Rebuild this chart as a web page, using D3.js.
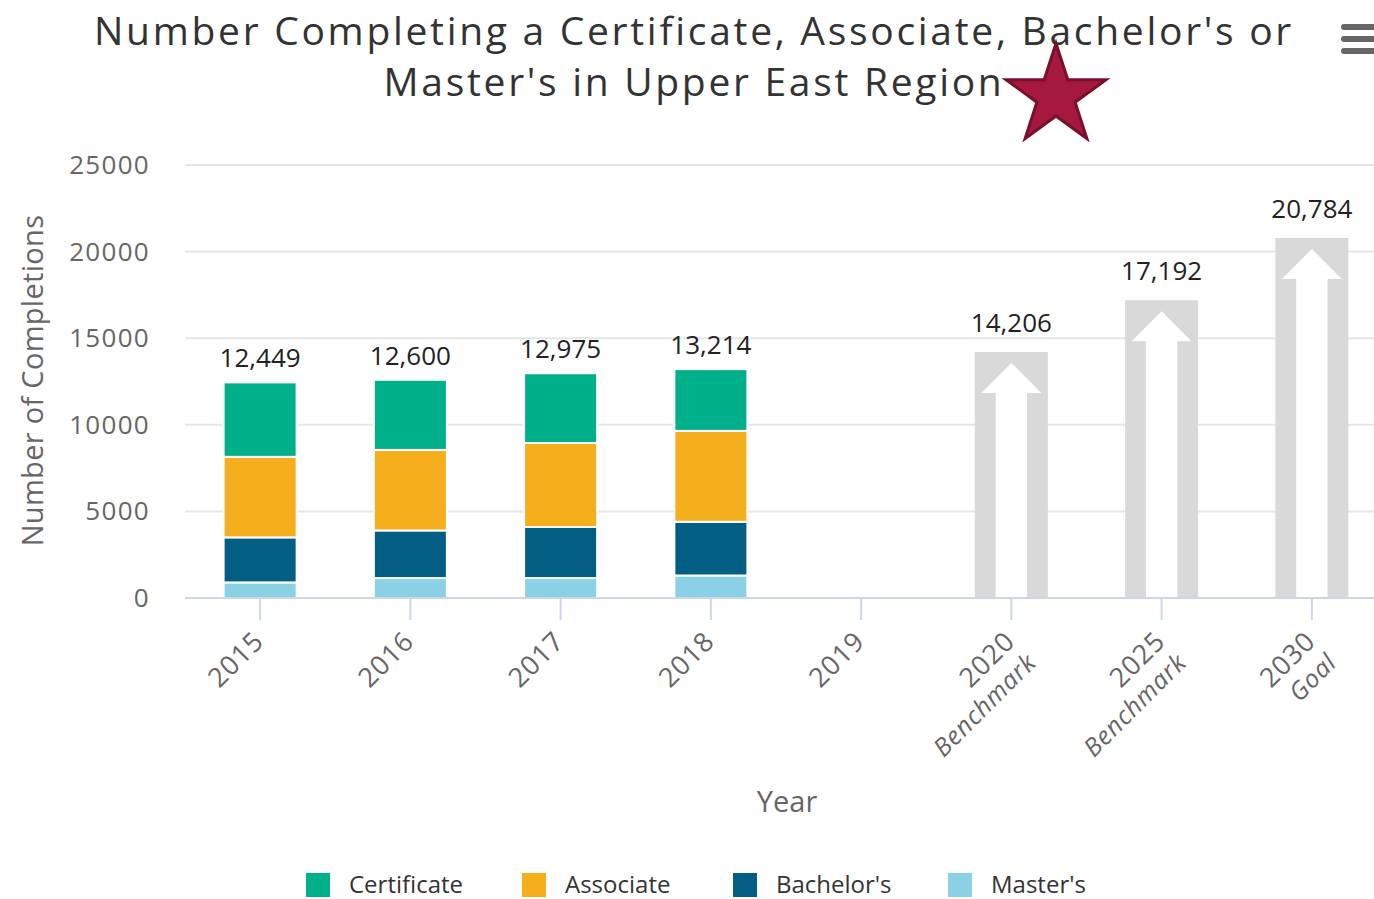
<!DOCTYPE html>
<html>
<head>
<meta charset="utf-8">
<style>
  body { margin: 0; background: #fff; overflow: hidden; }
  svg { display: block; }
  svg text { font-family: "Open Sans", sans-serif; }
</style>
</head>
<body>
<div id="chart"></div>
<script src="https://cdn.jsdelivr.net/npm/d3@7"></script>
<script>
// Data
var categories = ["2015", "2016", "2017", "2018", "2019", "2020", "2025", "2030"];
var categoryLines = [["2015"], ["2016"], ["2017"], ["2018"], ["2019"],
  ["2020", "Benchmark"], ["2025", "Benchmark"], ["2030", "Goal"]];
var masters     = [900, 1150, 1150, 1300, 0, 0, 0, 0];
var bachelors   = [2600, 2750, 2950, 3100, 0, 0, 0, 0];
var associate   = [4650, 4650, 4850, 5250, 0, 0, 0, 0];
var certificate = [4299, 4050, 4025, 3564, 0, 0, 0, 0];
var benchmarks  = [null, null, null, null, null, 14206, 17192, 20784];
var yTicks = [0, 5000, 10000, 15000, 20000, 25000];

var seriesNames = ["Certificate", "Associate", "Bachelor's", "Master's"];
var colors = {"Certificate": "#00b08a", "Associate": "#f5ae1c", "Bachelor's": "#025e83", "Master's": "#8ad1e5"};

// Layout
var width = 1374, height = 899;
var plot = {left: 185, right: 1387, top: 165, bottom: 598};

var svg = d3.select("#chart").append("svg")
  .attr("width", width).attr("height", height);

var x = d3.scaleBand().domain(categories)
  .range([plot.left, plot.right])
  .paddingInner(0.514).paddingOuter(0.257);
var y = d3.scaleLinear().domain([0, 25000]).range([plot.bottom, plot.top]);

// Gridlines
svg.append("g").selectAll("line")
  .data(yTicks.slice(1))
  .enter().append("line")
    .attr("x1", plot.left).attr("x2", plot.right)
    .attr("y1", function (d) { return y(d); }).attr("y2", function (d) { return y(d); })
    .attr("stroke", "#e6e6e6").attr("stroke-width", 2);

// Y tick labels
svg.append("g").selectAll("text")
  .data(yTicks)
  .enter().append("text")
    .attr("x", 150).attr("y", function (d) { return y(d) + 9; })
    .attr("text-anchor", "end")
    .style("font-size", "26px").style("letter-spacing", "1.3px")
    .attr("fill", "#666")
    .text(function (d) { return d; });

// Stacked bars
var rows = categories.map(function (c, i) {
  return {cat: c, "Master's": masters[i], "Bachelor's": bachelors[i],
    "Associate": associate[i], "Certificate": certificate[i]};
});
var stack = d3.stack().keys(["Master's", "Bachelor's", "Associate", "Certificate"]);
var layers = stack(rows);

svg.append("g").selectAll("g")
  .data(layers)
  .enter().append("g")
    .attr("fill", function (d) { return colors[d.key]; })
  .selectAll("rect")
  .data(function (d) { return d.filter(function (p) { return p[1] > p[0]; }); })
  .enter().append("rect")
    .attr("x", function (d) { return x(d.data.cat); })
    .attr("width", x.bandwidth())
    .attr("y", function (d) { return y(d[1]); })
    .attr("height", function (d) { return y(d[0]) - y(d[1]); })
    .attr("stroke", "#fff").attr("stroke-width", 2);

// Stack totals
var totals = rows.map(function (r, i) {
  return {cat: r.cat, total: masters[i] + bachelors[i] + associate[i] + certificate[i]};
}).filter(function (d) { return d.total > 0; });

svg.append("g").selectAll("text")
  .data(totals)
  .enter().append("text")
    .attr("x", function (d) { return x(d.cat) + x.bandwidth() / 2; })
    .attr("y", function (d) { return y(d.total) - 15; })
    .attr("text-anchor", "middle")
    .style("font-size", "26px").attr("fill", "#222")
    .text(function (d) { return d3.format(",")(d.total); });

// Benchmark bars with arrows
var bench = categories.map(function (c, i) { return {cat: c, value: benchmarks[i]}; })
  .filter(function (d) { return d.value != null; });

var bw = x.bandwidth();
var bg = svg.append("g").selectAll("g")
  .data(bench)
  .enter().append("g");

bg.append("rect")
  .attr("x", function (d) { return x(d.cat); })
  .attr("width", bw)
  .attr("y", function (d) { return y(d.value); })
  .attr("height", function (d) { return y(0) - y(d.value); })
  .attr("fill", "#d9d9d9");

bg.append("path")
  .attr("fill", "#fff")
  .attr("d", function (d) {
    var cx = x(d.cat) + bw / 2;
    var tip = y(d.value) + 11;
    var headW = bw * 0.82, shaftW = bw * 0.43, headH = 30;
    var bottom = y(0);
    return "M" + cx + "," + tip +
      "L" + (cx + headW / 2) + "," + (tip + headH) +
      "L" + (cx + shaftW / 2) + "," + (tip + headH) +
      "L" + (cx + shaftW / 2) + "," + bottom +
      "L" + (cx - shaftW / 2) + "," + bottom +
      "L" + (cx - shaftW / 2) + "," + (tip + headH) +
      "L" + (cx - headW / 2) + "," + (tip + headH) + "Z";
  });

bg.append("text")
  .attr("x", function (d) { return x(d.cat) + bw / 2; })
  .attr("y", function (d) { return y(d.value) - 20; })
  .attr("text-anchor", "middle")
  .style("font-size", "26px").attr("fill", "#222")
  .text(function (d) { return d3.format(",")(d.value); });

// X axis
var xAxis = svg.append("g")
  .attr("transform", "translate(0," + plot.bottom + ")")
  .call(d3.axisBottom(x).tickSize(22).tickSizeOuter(0).tickFormat(""));
xAxis.select(".domain").attr("stroke", "#ccd6eb").attr("stroke-width", 2)
  .attr("d", "M" + plot.left + ",0H" + plot.right);
xAxis.selectAll(".tick line").attr("stroke", "#ccd6eb").attr("stroke-width", 2);

var xl = svg.append("g").selectAll("g")
  .data(categories)
  .enter().append("g")
    .attr("transform", function (d) {
      return "translate(" + (x(d) + bw / 2 + 5) + "," + (plot.bottom + 45) + ") rotate(-45)";
    });
xl.append("text")
  .attr("text-anchor", "end")
  .style("font-size", "27px").style("letter-spacing", "0.8px").attr("fill", "#666")
  .selectAll("tspan")
  .data(function (d, i) { return categoryLines[i]; })
  .enter().append("tspan")
    .attr("x", 0)
    .attr("dy", function (d, i) { return i === 0 ? 0 : 30; })
    .style("font-style", function (d, i) { return i === 0 ? "normal" : "italic"; })
    .style("font-size", function (d, i) { return i === 0 ? "27px" : "25px"; })
    .text(function (d) { return d; });

// Axis titles
svg.append("text")
  .attr("x", 787).attr("y", 812)
  .attr("text-anchor", "middle")
  .style("font-size", "29px").attr("fill", "#666")
  .text("Year");

svg.append("text")
  .attr("transform", "translate(43," + ((plot.top + plot.bottom) / 2 - 1) + ") rotate(-90)")
  .attr("text-anchor", "middle")
  .style("font-size", "29px").style("letter-spacing", "0.3px").attr("fill", "#666")
  .text("Number of Completions");

// Title
svg.append("g").selectAll("text")
  .data(["Number Completing a Certificate, Associate, Bachelor's or",
         "Master's in Upper East Region"])
  .enter().append("text")
    .attr("x", 694).attr("y", function (d, i) { return 45 + i * 51; })
    .attr("text-anchor", "middle")
    .style("font-size", "39px").style("letter-spacing", "2.7px").attr("fill", "#333")
    .text(function (d) { return d; });

// Star marker next to the title
svg.append("path")
  .attr("d", d3.symbol(d3.symbolStar, 3100)())
  .attr("transform", "translate(1056,96)")
  .attr("fill", "#a6193e").attr("stroke", "#7a0f2c").attr("stroke-width", 3);

// Context menu icon
svg.append("g").selectAll("rect")
  .data([0, 1, 2])
  .enter().append("rect")
    .attr("x", 1341).attr("y", function (d) { return 24 + d * 12; })
    .attr("width", 45).attr("height", 6).attr("rx", 3)
    .attr("fill", "#666");

// Legend
var legendX = [306, 522, 733, 948];
var legend = svg.append("g");
legend.selectAll("rect")
  .data(seriesNames)
  .enter().append("rect")
    .attr("x", function (d, i) { return legendX[i]; }).attr("y", 873)
    .attr("width", 24).attr("height", 24)
    .attr("fill", function (d) { return colors[d]; });
legend.selectAll("text")
  .data(seriesNames)
  .enter().append("text")
    .attr("x", function (d, i) { return legendX[i] + 43; }).attr("y", 893)
    .style("font-size", "24px").attr("fill", "#333")
    .text(function (d) { return d; });
</script>
</body>
</html>
